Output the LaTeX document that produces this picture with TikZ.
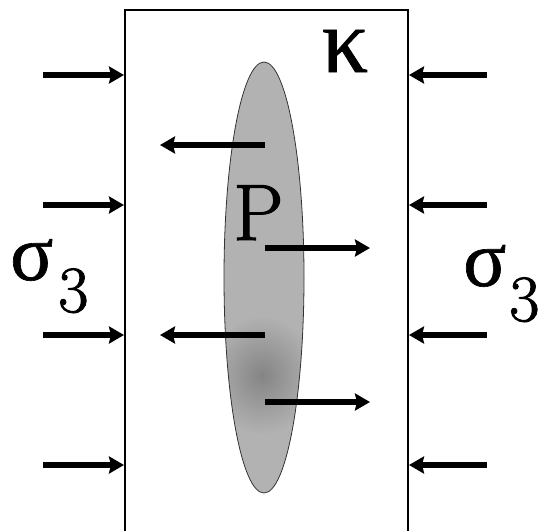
\documentclass[tikz,border=0pt]{standalone}
\usepackage{fontspec}
\newfontfamily\grk[FakeBold=0.8]{Liberation Serif}
\newfontfamily\lmb[FakeBold=1.4]{Latin Modern Roman}
\usetikzlibrary{arrows.meta}
\begin{document}
\begin{tikzpicture}[x=1pt,y=-1pt,
  force/.style={line width=6pt,-{Stealth[length=15pt,width=17pt,inset=2pt]}},
  lbl/.style={inner sep=0pt,anchor=base west},
  bigsig/.style={font=\grk\fontsize{80}{80}\selectfont},
  sub/.style={font=\lmb\fontsize{66}{66}\selectfont}
]
\useasboundingbox (0,0) rectangle (543,531);
% specimen outline (open at bottom)
\draw[line width=1.6pt] (125,531) -- (125,10) -- (408,10) -- (408,531);
% crack / plane P
\begin{scope}
\clip (264,277.5) ellipse [x radius=40pt, y radius=215.5pt];
\fill[black!30] (220,60) rectangle (310,500);
\shade[inner color=black!48,outer color=black!30] (262,375) ellipse [x radius=55pt, y radius=60pt];
\end{scope}
\draw[line width=0.8pt,black!80] (264,277.5) ellipse [x radius=40pt, y radius=215.5pt];
% labels
\node[lbl,font=\lmb\fontsize{80}{80}\selectfont] (P) at (233,240) {P};
\node[inner sep=0pt,font=\grk\fontsize{92}{92}\selectfont] (K) at (345,51) {κ};
\node[lbl,bigsig] (sl) at (10,280) {σ};
\node[lbl,sub] (sl3) at (58,312) {3};
\node[lbl,bigsig] (sr) at (463,286) {σ};
\node[lbl,sub] (sr3) at (509,321) {3};
% external compressive forces
\foreach \y [count=\i] in {75,205,335,465}{
  \coordinate (la\i) at (43,\y);
  \coordinate (lb\i) at (124,\y);
  \coordinate (ra\i) at (487,\y);
  \coordinate (rb\i) at (409,\y);
  \draw[force] (la\i) -- (lb\i);
  \draw[force] (ra\i) -- (rb\i);
}
% internal forces
\coordinate (i1a) at (265,145); \coordinate (i1b) at (160,145);
\coordinate (i2a) at (265,248); \coordinate (i2b) at (370,248);
\coordinate (i3a) at (265,335); \coordinate (i3b) at (160,335);
\coordinate (i4a) at (265,402); \coordinate (i4b) at (370,402);
\draw[force] (i1a) -- (i1b);
\draw[force] (i2a) -- (i2b);
\draw[force] (i3a) -- (i3b);
\draw[force] (i4a) -- (i4b);
\end{tikzpicture}
\end{document}
